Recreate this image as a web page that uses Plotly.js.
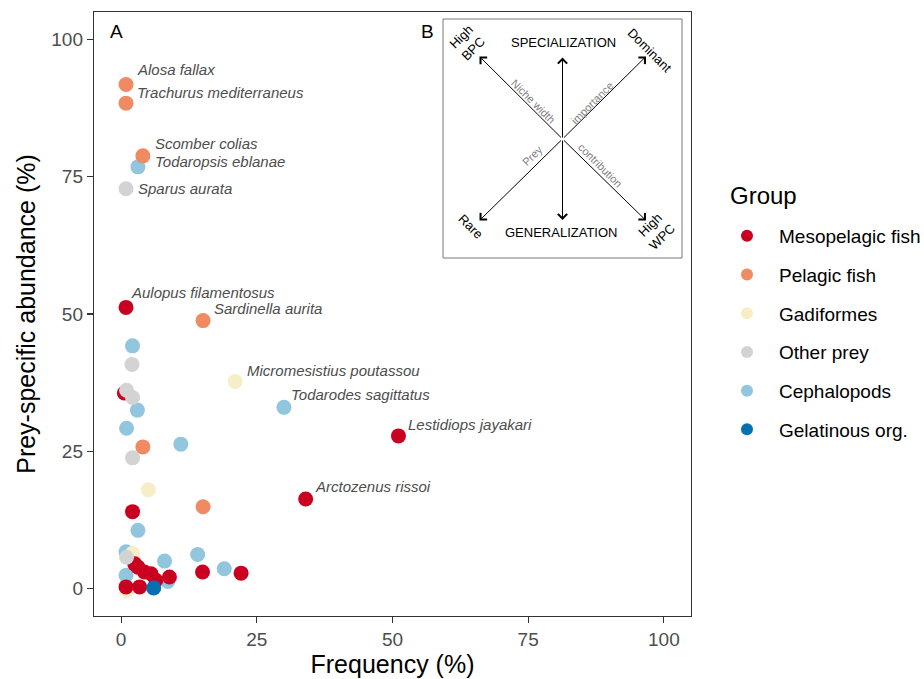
<!DOCTYPE html>
<html>
<head>
<meta charset="utf-8">
<script src="https://cdn.plot.ly/plotly-3.0.1.min.js"></script>
<style>html,body{margin:0;padding:0;background:#fff;}#chart{width:924px;height:679px;}</style>
</head>
<body>
<div id="chart"></div>
<script>
// ---- data (Frequency %, Prey-specific abundance %) ----
const groups = ["Mesopelagic fish","Pelagic fish","Gadiformes","Other prey","Cephalopods","Gelatinous org."];
const colors = ["#CA0020","#EF8A62","#F6EEC6","#D3D3D3","#92C5DE","#0571B0"];

const mesoX = [0.9, 51.1, 34.0, 0.6, 2.1, 2.5, 3.1, 4.3, 5.5, 6.4, 8.9, 15.0, 22.1, 0.9, 3.4];
const mesoY = [51.2, 27.8, 16.3, 35.6, 14.0, 4.5, 3.9, 3.0, 2.7, 1.5, 2.1, 3.0, 2.8, 0.3, 0.3];
const pelX = [0.9, 0.9, 4.0, 15.1, 4.0, 15.1];
const pelY = [91.8, 88.4, 78.8, 48.8, 25.8, 14.9];
const gadX = [21.0, 5.0, 2.1, 1.0];
const gadY = [37.7, 18.0, 6.4, -0.4];
const othX = [0.9, 2.0, 1.0, 2.1, 2.1, 1.0];
const othY = [72.8, 40.8, 36.1, 34.8, 23.8, 5.7];
const cepX = [3.1, 30.0, 2.1, 3.0, 1.0, 11.0, 3.1, 0.9, 8.0, 14.1, 19.0, 8.6, 0.9];
const cepY = [76.8, 33.0, 44.2, 32.5, 29.2, 26.3, 10.6, 6.7, 5.0, 6.2, 3.6, 1.3, 2.4];
const gelX = [6.0];
const gelY = [0.1];

const labelText = ["Alosa fallax","Trachurus mediterraneus","Scomber colias","Todaropsis eblanae","Sparus aurata",
  "Aulopus filamentosus","Sardinella aurita","Micromesistius poutassou","Todarodes sagittatus","Lestidiops jayakari","Arctozenus rissoi"];
const labelX = [0.9, 0.9, 4.0, 3.1, 0.9, 0.9, 15.1, 21.0, 30.0, 51.1, 34.0];
const labelY = [91.8, 88.4, 78.8, 76.8, 72.8, 51.2, 48.8, 37.7, 33.0, 27.8, 16.3];

const xTicks = [0, 25, 50, 75, 100];
const yTicks = [0, 25, 50, 75, 100];

// ---- layout helpers (pixel -> axis units for decorative inset) ----
const xr = [-5, 105], yr = [-5, 105];
const PL = 94, PW = 597, PT = 12, PH = 604;
function X(px){ return xr[0] + (px - PL) / PW * (xr[1] - xr[0]); }
function Y(py){ return yr[1] - (py - PT) / PH * (yr[1] - yr[0]); }

const series = [
  {name: groups[4], x: cepX, y: cepY, c: colors[4], rank: 5},
  {name: groups[2], x: gadX, y: gadY, c: colors[2], rank: 3},
  {name: groups[0], x: mesoX, y: mesoY, c: colors[0], rank: 1},
  {name: groups[3], x: othX, y: othY, c: colors[3], rank: 4},
  {name: groups[1], x: pelX, y: pelY, c: colors[1], rank: 2},
  {name: groups[5], x: gelX, y: gelY, c: colors[5], rank: 6}
];
const traces = series.map(s => ({
  type: "scatter", mode: "markers", name: s.name, x: s.x, y: s.y,
  legendrank: s.rank, legendgroup: s.name,
  marker: {color: s.c, size: 15, line: {width: 0}},
  hoverinfo: "x+y+name"
}));

const labelOffsets = [[9,15],[9,11],[10,12],[15,5],[10,0],[3,15],[9,12],[10,11],[5,13],[8,11],[7,13]];
const annotations = labelText.map((t, i) => ({
  x: labelX[i], y: labelY[i], xref: "x", yref: "y", text: t, showarrow: false,
  xanchor: "left", yanchor: "middle", xshift: labelOffsets[i][0], yshift: labelOffsets[i][1],
  font: {family: "Liberation Sans, Arial, sans-serif", size: 15, color: "#4D4D4D", style: "italic"}
}));

// panel letters
annotations.push({x: X(116), y: Y(31), xref: "x", yref: "y", text: "A", showarrow: false,
  font: {family: "Liberation Sans, Arial, sans-serif", size: 19, color: "#000"}});
annotations.push({x: X(427), y: Y(31), xref: "x", yref: "y", text: "B", showarrow: false,
  font: {family: "Liberation Sans, Arial, sans-serif", size: 19, color: "#000"}});

// legend title
annotations.push({x: (728 - PL) / PW, y: (PT + PH - 195) / PH, xref: "paper", yref: "paper", text: "Group",
  showarrow: false, xanchor: "left", yanchor: "middle",
  font: {family: "Liberation Sans, Arial, sans-serif", size: 24, color: "#000"}});

// inset arrows
const cx = 562.5, cy = 139;
const tips = [[562.5, 57.5], [562.5, 220], [479.5, 56.5], [646, 56.5], [479.5, 220.5], [646, 220.5]];
tips.forEach(t => annotations.push({
  x: X(t[0]), y: Y(t[1]), xref: "x", yref: "y", ax: X(cx), ay: Y(cy), axref: "x", ayref: "y",
  text: "", showarrow: true, arrowhead: 4, arrowsize: 1.8, arrowwidth: 1, arrowcolor: "#000", standoff: 0, startstandoff: 0
}));
const insetFont = {family: "Liberation Sans, Arial, sans-serif", size: 13, color: "#000"};
const greyFont = {family: "Liberation Sans, Arial, sans-serif", size: 11, color: "#808080"};
const insetTexts = [
  ["SPECIALIZATION", 563, 42, 0, insetFont],
  ["GENERALIZATION", 561, 232, 0, insetFont],
  ["High<br>BPC", 467, 43, -45, insetFont],
  ["Dominant", 650, 50, 45, insetFont],
  ["Rare", 471, 226, 45, insetFont],
  ["High<br>WPC", 656, 231, -45, insetFont],
  ["Niche width", 533, 101, 45, greyFont],
  ["importance", 592, 103, -45, greyFont],
  ["Prey", 532, 156, -45, greyFont],
  ["contribution", 600, 165, 45, greyFont]
];
insetTexts.forEach(t => annotations.push({
  x: X(t[1]), y: Y(t[2]), xref: "x", yref: "y", text: t[0], showarrow: false, textangle: t[3],
  font: t[4], align: "center"
}));

const layout = {
  width: 924, height: 679,
  margin: {l: PL, r: 924 - PL - PW, t: PT, b: 679 - PT - PH, autoexpand: false},
  paper_bgcolor: "#fff", plot_bgcolor: "#fff",
  font: {family: "Liberation Sans, Arial, sans-serif", color: "#000"},
  xaxis: {
    range: xr, tickvals: xTicks, ticktext: xTicks.map(String), zeroline: false, showgrid: false,
    showline: true, mirror: true, linecolor: "#333", linewidth: 1.2,
    ticks: "outside", ticklen: 6, tickwidth: 1.2, tickcolor: "#333",
    tickfont: {size: 19, color: "#4D4D4D"},
    title: {text: "Frequency (%)", font: {size: 25, color: "#000"}, standoff: 6}
  },
  yaxis: {
    range: yr, tickvals: yTicks, ticktext: yTicks.map(String), zeroline: false, showgrid: false,
    showline: true, mirror: true, linecolor: "#333", linewidth: 1.2,
    ticks: "outside", ticklen: 6, tickwidth: 1.2, tickcolor: "#333",
    tickfont: {size: 19, color: "#4D4D4D"},
    title: {text: "Prey-specific abundance (%)", font: {size: 25, color: "#000"}, standoff: 8}
  },
  shapes: [{type: "rect", xref: "x", yref: "y", x0: X(443), x1: X(682), y0: Y(258), y1: Y(19),
    line: {color: "#555", width: 0.8}, fillcolor: "rgba(255,255,255,0)", layer: "below"}],
  annotations: annotations,
  showlegend: true,
  legend: {
    x: (715 - PL) / PW, xanchor: "left", y: (PT + PH - 217) / PH, yanchor: "top",
    font: {size: 19, color: "#000"}, traceorder: "grouped", tracegroupgap: 11, itemwidth: 54,
    bgcolor: "rgba(0,0,0,0)", itemsizing: "constant"
  }
};

Plotly.newPlot("chart", traces, layout, {displayModeBar: false, staticPlot: true});
</script>
</body>
</html>
